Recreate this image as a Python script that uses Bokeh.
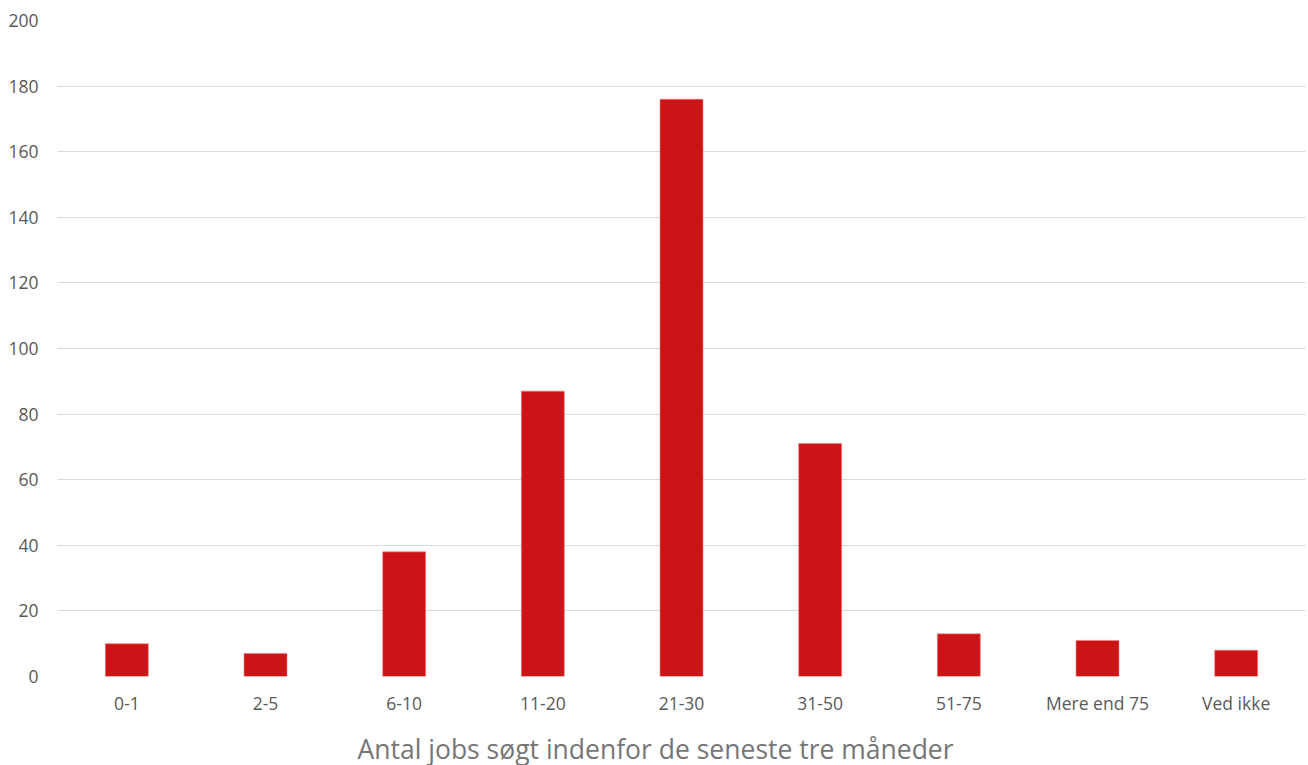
from bokeh.plotting import figure
from bokeh.models import ColumnDataSource, FixedTicker, Range1d, Title
from bokeh.embed import file_html
from bokeh.resources import INLINE

# Number of jobs applied for within the last three months
categories = ["0-1", "2-5", "6-10", "11-20", "21-30", "31-50", "51-75", "Mere end 75", "Ved ikke"]
counts = [10, 7, 38, 87, 176, 71, 13, 11, 8]
y_ticks = [0, 20, 40, 60, 80, 100, 120, 140, 160, 180, 200]
x_title = "Antal jobs søgt indenfor de seneste tre måneder"

FONT = "Open Sans"
BAR_RED = "#CC1417"
LABEL_GREY = "#595959"

source = ColumnDataSource(data=dict(cat=categories, n=counts))

p = figure(
    x_range=categories,
    y_range=Range1d(0, 200),
    width=1308,
    height=765,
    output_backend="svg",
    toolbar_location=None,
    min_border_left=57,
    min_border_right=3,
    min_border_top=20,
    min_border_bottom=0,
    outline_line_color=None,
)

p.vbar(x="cat", top="n", width=0.31, source=source,
       fill_color=BAR_RED, line_color="#F08080", line_width=0.6)

p.x_range.range_padding = 0.0

# grid
p.xgrid.grid_line_color = None
p.ygrid.grid_line_color = "#D9D9D9"
p.ygrid.grid_line_width = 1
p.yaxis.ticker = FixedTicker(ticks=y_ticks)

# axes styling
for ax in (p.xaxis, p.yaxis):
    ax.axis_line_color = None
    ax.major_tick_line_color = None
    ax.minor_tick_line_color = None
    ax.major_tick_out = 0
    ax.major_tick_in = 0
    ax.minor_tick_out = 0
    ax.minor_tick_in = 0
    ax.major_label_text_font = FONT
    ax.major_label_text_font_size = "17.5px"
    ax.major_label_text_color = LABEL_GREY

p.yaxis.major_label_standoff = 19
p.xaxis.major_label_standoff = 14

# gap between the category labels and the axis title
p.add_layout(Title(text=" ", text_font_size="1px", standoff=8.6), "below")

# category axis title, set slightly left of the frame centre
p.add_layout(Title(text=x_title, align="left", offset=300,
                   text_font=FONT, text_font_style="normal",
                   text_font_size="26.5px", text_color="#767676",
                   standoff=-2), "below")

open("out.html", "w").write(file_html(p, INLINE))
